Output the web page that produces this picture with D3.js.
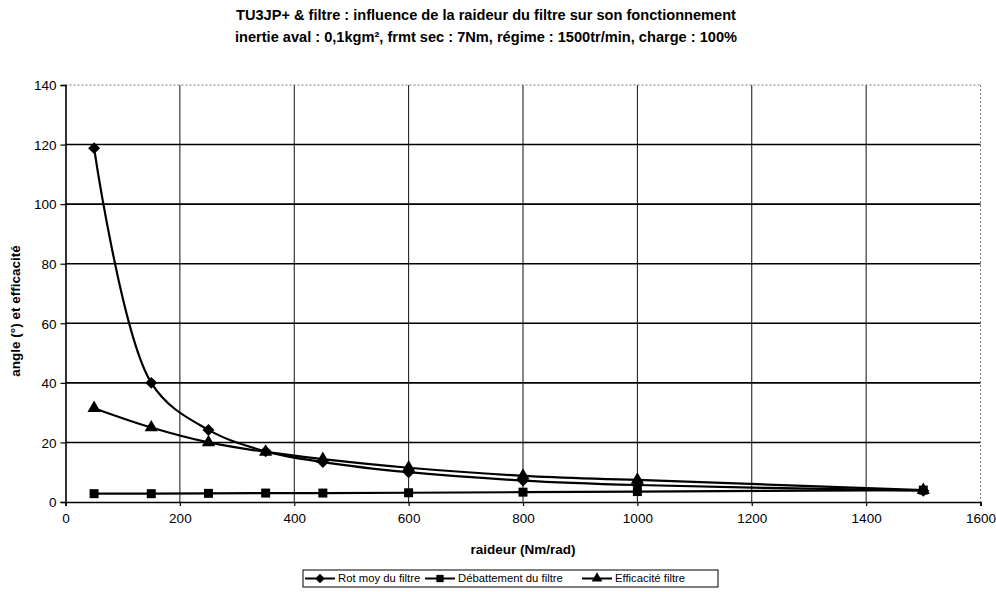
<!DOCTYPE html>
<html>
<head>
<meta charset="utf-8">
<script src="https://cdn.jsdelivr.net/npm/d3@7"></script>
<style>
  body { margin: 0; background: #fff; }
  svg { font-family: Arial, "Liberation Sans", sans-serif; }
  .tick text { font-size: 13.5px; fill: #000; }
  .title { font-size: 14.6px; font-weight: bold; }
  .axis-title { font-size: 13.5px; font-weight: bold; }
  .legend text { font-size: 11.3px; }
</style>
</head>
<body>
<script>
// Data
var raideur = [50, 150, 250, 350, 450, 600, 800, 1000, 1500];
var rotMoy = [118.8, 40, 24.2, 17, 13.4, 10, 7.2, 5.7, 3.8];
var debattement = [2.8, 2.8, 2.9, 3.0, 3.0, 3.1, 3.3, 3.5, 4.0];
var efficacite = [31.5, 25, 20, 16.8, 14.4, 11.5, 8.8, 7.4, 4.0];
var xTicks = [0, 200, 400, 600, 800, 1000, 1200, 1400, 1600];
var yTicks = [0, 20, 40, 60, 80, 100, 120, 140];

var titleLines = [
    "TU3JP+ & filtre : influence de la raideur du filtre sur son fonctionnement",
    "inertie aval : 0,1kgm², frmt sec : 7Nm, régime : 1500tr/min, charge : 100%"
];

var series = [
    { name: "Rot moy du filtre", values: rotMoy, marker: "diamond", smooth: true },
    { name: "Débattement du filtre", values: debattement, marker: "square", smooth: false },
    { name: "Efficacité filtre", values: efficacite, marker: "triangle", smooth: true }
];

var w = 996, h = 592;
var plotLeft = 65.5, plotRight = 980.5, plotTop = 85, plotBottom = 502;

var svg = d3.select("body").append("svg")
    .attr("width", w)
    .attr("height", h);

var x = d3.scaleLinear().domain([0, 1600]).range([plotLeft, plotRight]);
var y = d3.scaleLinear().domain([0, 140]).range([plotBottom, plotTop]);

// Title
svg.selectAll("text.title")
    .data(titleLines)
    .enter().append("text")
    .attr("class", "title")
    .attr("x", 486)
    .attr("y", function(d, i) { return 20 + i * 22; })
    .attr("text-anchor", "middle")
    .text(function(d) { return d; });

// Vertical grid (thin)
svg.append("g").selectAll("line")
    .data(xTicks.slice(1, -1))
    .enter().append("line")
    .attr("x1", function(d) { return x(d); })
    .attr("x2", function(d) { return x(d); })
    .attr("y1", plotTop)
    .attr("y2", plotBottom)
    .attr("stroke", "#111")
    .attr("stroke-width", 1);

// Horizontal grid (solid)
svg.append("g").selectAll("line")
    .data(yTicks.slice(1, -1))
    .enter().append("line")
    .attr("x1", plotLeft)
    .attr("x2", plotRight)
    .attr("y1", function(d) { return y(d); })
    .attr("y2", function(d) { return y(d); })
    .attr("stroke", "#000")
    .attr("stroke-width", 1.6);

// Top and right borders dotted
svg.append("line")
    .attr("x1", plotLeft).attr("x2", plotRight).attr("y1", plotTop).attr("y2", plotTop)
    .attr("stroke", "#777").attr("stroke-width", 1).attr("stroke-dasharray", "2,2");
svg.append("line")
    .attr("x1", plotRight).attr("x2", plotRight).attr("y1", plotTop).attr("y2", plotBottom)
    .attr("stroke", "#777").attr("stroke-width", 1).attr("stroke-dasharray", "2,2");

// Axes
var xAxis = d3.axisBottom(x).tickValues(xTicks).tickSize(4).tickPadding(6).tickFormat(d3.format("d"));
var yAxis = d3.axisLeft(y).tickValues(yTicks).tickSize(5).tickPadding(4).tickFormat(d3.format("d"));

var gx = svg.append("g").attr("transform", "translate(0," + plotBottom + ")").call(xAxis);
var gy = svg.append("g").attr("transform", "translate(" + plotLeft + ",0)").call(yAxis);
[gx, gy].forEach(function(g) {
    g.select(".domain").attr("stroke", "#000").attr("stroke-width", 1.6);
    g.selectAll(".tick line").attr("stroke", "#000").attr("stroke-width", 1.2);
});
gx.selectAll(".tick text").attr("dy", "0.8em");
gy.selectAll(".tick text").attr("dy", "0.35em");

// Axis titles
svg.append("text")
    .attr("class", "axis-title")
    .attr("x", (plotLeft + plotRight) / 2)
    .attr("y", 554)
    .attr("text-anchor", "middle")
    .text("raideur (Nm/rad)");

svg.append("text")
    .attr("class", "axis-title")
    .attr("transform", "translate(20,311) rotate(-90)")
    .attr("text-anchor", "middle")
    .text("angle (°) et efficacité");

// Markers (diamond = square turned 45°, like Excel)
function markerPath(type, size) {
    if (type === "diamond") return d3.symbol().type(d3.symbolSquare).size(size * 0.75)();
    if (type === "square") return d3.symbol().type(d3.symbolSquare).size(size * 0.85)();
    return d3.symbol().type(d3.symbolTriangle).size(size * 0.8)();
}
function markerRot(type) { return type === "diamond" ? " rotate(45)" : ""; }

var plot = svg.append("g");

series.forEach(function(s) {
    var pts = raideur.map(function(r, i) { return [r, s.values[i]]; });
    var line = d3.line()
        .x(function(d) { return x(d[0]); })
        .y(function(d) { return y(d[1]); })
        .curve(s.smooth ? d3.curveCatmullRom.alpha(0.5) : d3.curveLinear);
    plot.append("path")
        .datum(pts)
        .attr("fill", "none")
        .attr("stroke", "#000")
        .attr("stroke-width", 2.2)
        .attr("d", line);
    plot.append("g").selectAll("path")
        .data(pts)
        .enter().append("path")
        .attr("transform", function(d) {
            return "translate(" + x(d[0]) + "," + y(d[1]) + ")" + markerRot(s.marker);
        })
        .attr("d", markerPath(s.marker, 95))
        .attr("fill", "#000");
});

// Legend
var legend = svg.append("g").attr("class", "legend");
var lx0 = 303, ly0 = 570, lw = 415, lh = 17;
legend.append("rect")
    .attr("x", lx0).attr("y", ly0).attr("width", lw).attr("height", lh)
    .attr("fill", "#fff").attr("stroke", "#000").attr("stroke-width", 1);

var itemX = [305, 425, 582];
series.forEach(function(s, i) {
    var cx = itemX[i];
    var cy = ly0 + lh / 2;
    legend.append("line")
        .attr("x1", cx).attr("x2", cx + 30)
        .attr("y1", cy).attr("y2", cy)
        .attr("stroke", "#000").attr("stroke-width", 2);
    legend.append("path")
        .attr("transform", "translate(" + (cx + 15) + "," + cy + ")" + markerRot(s.marker))
        .attr("d", markerPath(s.marker, 62))
        .attr("fill", "#000");
    legend.append("text")
        .attr("x", cx + 33)
        .attr("y", cy)
        .attr("dy", "0.35em")
        .text(s.name);
});
</script>
</body>
</html>
